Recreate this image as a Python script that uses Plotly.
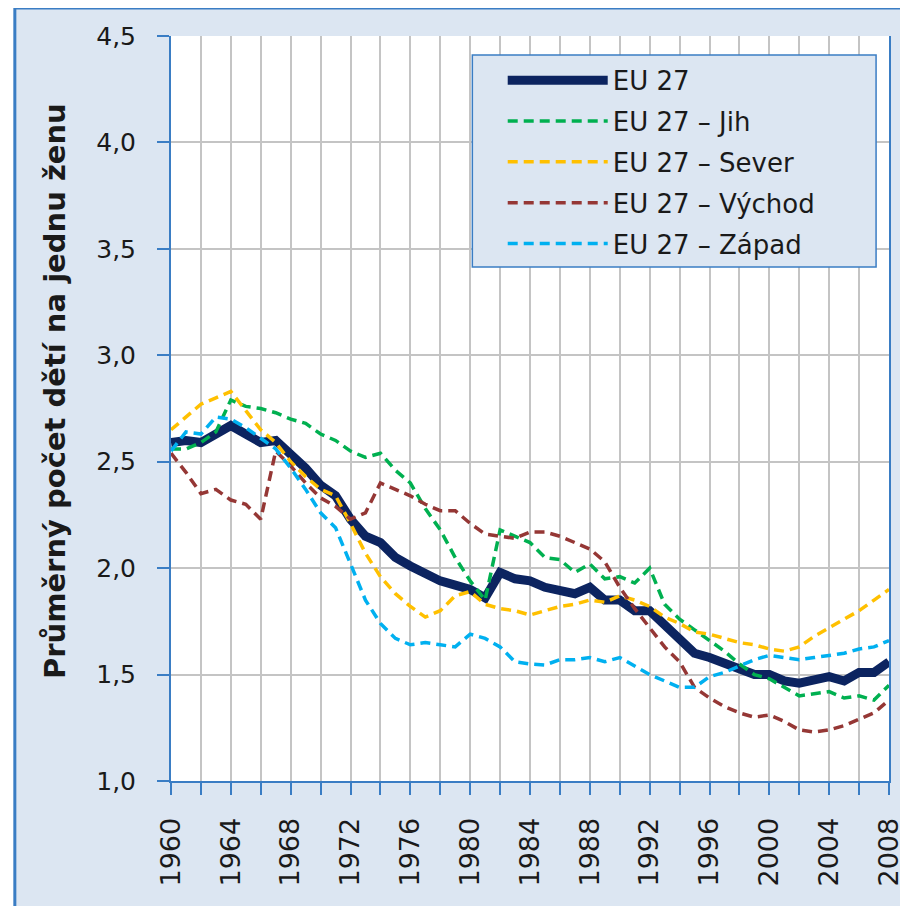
import plotly.graph_objects as go

roky = list(range(1960, 2009))

eu27 = [2.59, 2.60, 2.59, 2.63, 2.67, 2.63, 2.59, 2.60, 2.54, 2.47,
        2.39, 2.34, 2.23, 2.15, 2.12, 2.05, 2.01, 1.97, 1.94, 1.92,
        1.90, 1.86, 1.98, 1.95, 1.94, 1.91, 1.90, 1.88, 1.91, 1.85,
        1.85, 1.80, 1.80, 1.73, 1.66, 1.60, 1.58, 1.55, 1.52, 1.50,
        1.50, 1.47, 1.46, 1.47, 1.49, 1.47, 1.51, 1.51, 1.56]

jih = [2.56, 2.56, 2.59, 2.64, 2.79, 2.76, 2.75, 2.73, 2.70, 2.68,
       2.63, 2.60, 2.55, 2.52, 2.54, 2.46, 2.40, 2.28, 2.18, 2.05,
       1.94, 1.85, 2.18, 2.15, 2.12, 2.05, 2.04, 1.98, 2.02, 1.95,
       1.96, 1.93, 2.00, 1.83, 1.76, 1.71, 1.66, 1.61, 1.55, 1.50,
       1.48, 1.44, 1.40, 1.41, 1.42, 1.39, 1.40, 1.38, 1.45]

sever = [2.65, 2.71, 2.77, 2.80, 2.83, 2.74, 2.65, 2.59, 2.50, 2.43,
         2.37, 2.34, 2.21, 2.07, 1.96, 1.88, 1.82, 1.77, 1.80, 1.87,
         1.89, 1.83, 1.81, 1.80, 1.78, 1.80, 1.82, 1.83, 1.85, 1.84,
         1.87, 1.85, 1.82, 1.77, 1.74, 1.70, 1.69, 1.67, 1.65, 1.64,
         1.62, 1.61, 1.63, 1.68, 1.72, 1.76, 1.80, 1.85, 1.90]

vychod = [2.54, 2.45, 2.35, 2.37, 2.32, 2.30, 2.23, 2.55, 2.48, 2.40,
          2.33, 2.29, 2.23, 2.26, 2.40, 2.37, 2.34, 2.30, 2.27, 2.27,
          2.21, 2.16, 2.15, 2.14, 2.17, 2.17, 2.15, 2.12, 2.09, 2.03,
          1.91, 1.81, 1.72, 1.63, 1.56, 1.44, 1.39, 1.35, 1.32, 1.30,
          1.31, 1.28, 1.24, 1.23, 1.24, 1.26, 1.29, 1.32, 1.38]

zapad = [2.55, 2.64, 2.63, 2.71, 2.70, 2.66, 2.61, 2.56, 2.47, 2.37,
         2.26, 2.19, 2.02, 1.85, 1.74, 1.67, 1.64, 1.65, 1.64, 1.63,
         1.69, 1.67, 1.63, 1.56, 1.55, 1.545, 1.57, 1.57, 1.58, 1.56,
         1.58, 1.54, 1.50, 1.47, 1.44, 1.44, 1.49, 1.51, 1.54, 1.57,
         1.59, 1.58, 1.57, 1.58, 1.59, 1.60, 1.62, 1.63, 1.66]

# popisky osy x jen každé 4 roky, tick a mřížka po 2 letech
tick_roky = list(range(1960, 2009, 2))
tick_text = [str(r) if (r - 1960) % 4 == 0 else "" for r in tick_roky]

modra = "#3a7dc4"
pozadi = "#dce6f2"
font = "'DejaVu Sans', sans-serif"
barva_textu = "#1a1a1a"

fig = go.Figure()

serie = [
    ("EU 27", eu27, dict(color="#0c2460", width=9)),
    ("EU 27 – Jih", jih, dict(color="#00b050", width=3.5, dash="10px,6px")),
    ("EU 27 – Sever", sever, dict(color="#ffc000", width=3.5, dash="10px,6px")),
    ("EU 27 – Východ", vychod, dict(color="#953735", width=3.5, dash="10px,6px")),
    ("EU 27 – Západ", zapad, dict(color="#00b0f0", width=3.5, dash="10px,6px")),
]
for nazev, hodnoty, styl in serie:
    fig.add_trace(go.Scatter(x=roky, y=hodnoty, name=nazev, mode="lines",
                             line=styl, legendgroup=nazev))

# světle modrý rámeček celého grafu (výřez začíná kousek od levého horního rohu)
fig.add_shape(type="rect", xref="paper", yref="paper",
              x0=-0.2175, x1=1.03, y0=-0.18, y1=1.0376,
              fillcolor=pozadi, line=dict(color=modra, width=3), layer="below")
# bílá plocha grafu
fig.add_shape(type="rect", xref="x domain", yref="y domain",
              x0=0, x1=1, y0=0, y1=1,
              fillcolor="white", line=dict(width=0), layer="below")
# rámeček legendy
fig.add_shape(type="rect", xref="paper", yref="paper",
              x0=0.4197, x1=0.982, y0=0.690, y1=0.9745,
              fillcolor=pozadi, line=dict(color=modra, width=1.5), layer="above")

# popisek osy y jako anotace (v originále je mírně nad středem osy)
fig.add_annotation(text="<b>Průměrný počet dětí na jednu ženu</b>",
                   xref="paper", yref="paper", x=-0.188, y=0.5235,
                   textangle=-90, showarrow=False,
                   font=dict(family=font, size=29, color=barva_textu))

fig.update_layout(
    width=908, height=906,
    margin=dict(l=163, r=23, t=28, b=133),
    paper_bgcolor="white",
    plot_bgcolor="white",
    separators=", ",
    font=dict(family=font, size=24, color=barva_textu),
    showlegend=True,
    legend=dict(
        x=0.462, y=0.972, xanchor="left", yanchor="top",
        bgcolor="rgba(0,0,0,0)", borderwidth=0,
        font=dict(family=font, size=26, color=barva_textu),
        itemwidth=100, tracegroupgap=4,
    ),
    xaxis=dict(
        range=[1960, 2008],
        tickmode="array", tickvals=tick_roky, ticktext=tick_text,
        tickangle=-90,
        ticks="outside", ticklen=12, tickcolor=modra, tickwidth=2,
        showline=True, linecolor=modra, linewidth=2,
        showgrid=True, gridcolor="#c4c4c4", gridwidth=1.5,
        zeroline=False,
        tickfont=dict(family=font, size=27, color=barva_textu),
        ticklabelstandoff=12,
    ),
    yaxis=dict(
        range=[1.0, 4.5], dtick=0.5, tickformat=".1f",
        ticks="outside", ticklen=12, tickcolor=modra, tickwidth=2,
        showline=True, linecolor=modra, linewidth=2, mirror=True,
        showgrid=True, gridcolor="#c4c4c4", gridwidth=1.5,
        zeroline=False,
        tickfont=dict(family=font, size=25, color=barva_textu),
        ticklabelstandoff=16,
    ),
)

fig.write_html("out.html")
